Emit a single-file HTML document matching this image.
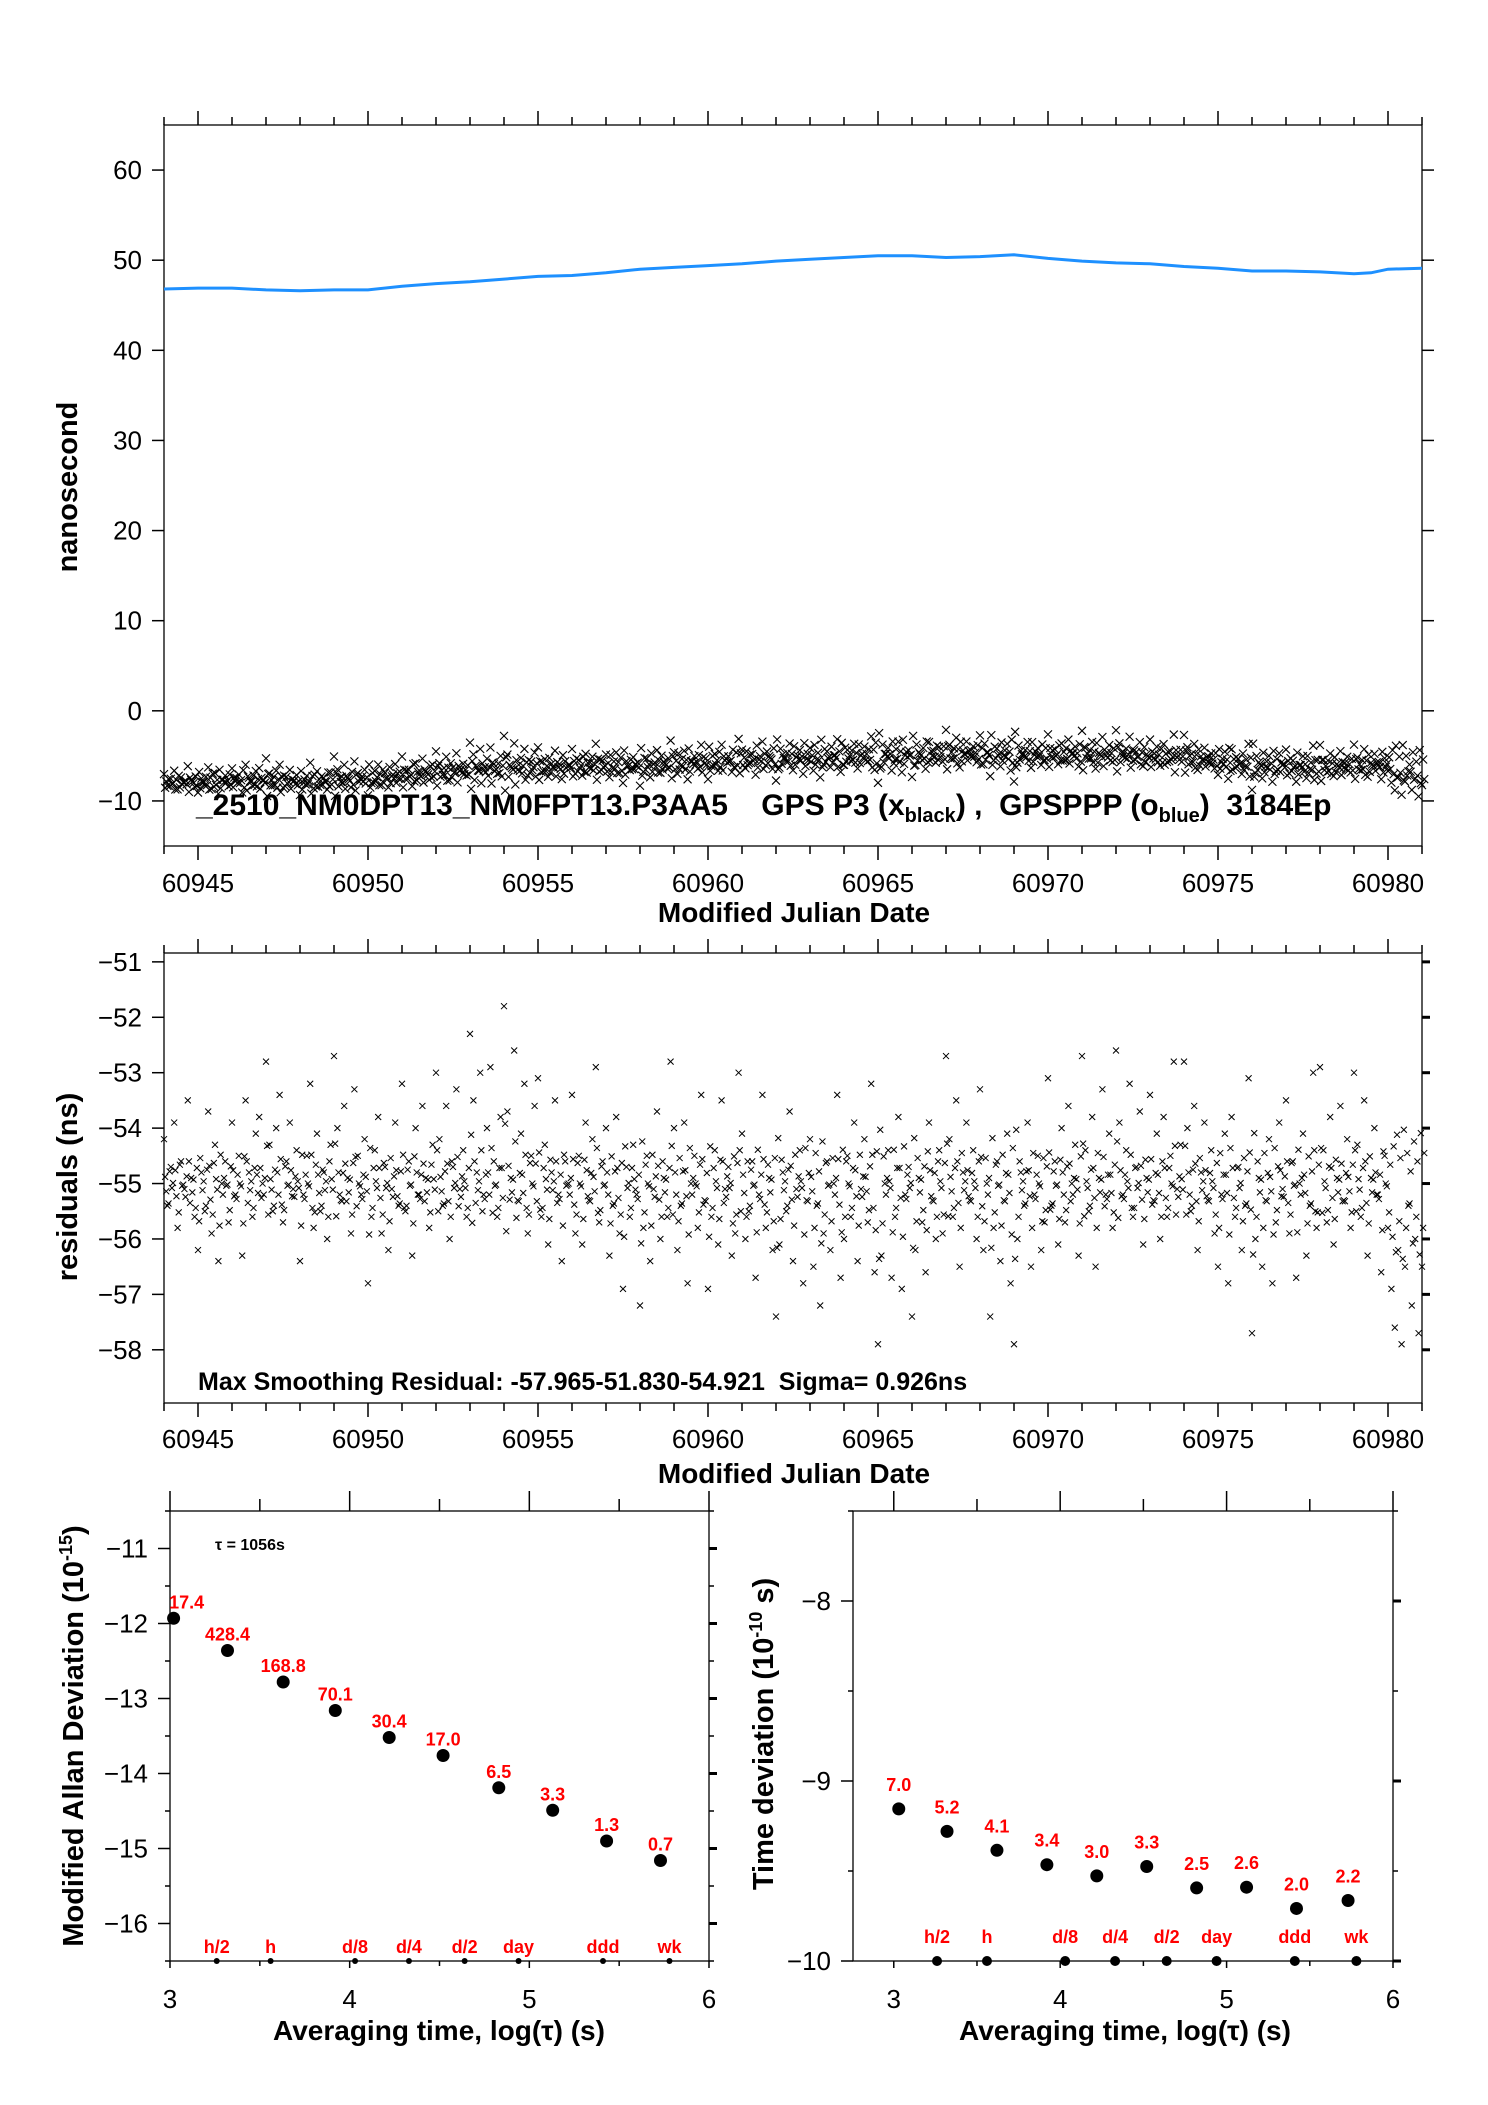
<!DOCTYPE html>
<html><head><meta charset="utf-8"><style>
html,body{margin:0;padding:0;background:#fff}
svg{display:block}
text{font-family:"Liberation Sans Narrow","Liberation Sans",sans-serif}
.tk{font-size:26px}
.ti{font-size:28px;font-weight:bold}
.red{fill:#ff0000;font-weight:bold;font-size:18px}
</style></head><body>
<svg id="fig" width="1488" height="2105" viewBox="0 0 1488 2105" xmlns="http://www.w3.org/2000/svg">
<rect width="1488" height="2105" fill="#fff"/>
<g id="p1"></g>
<g id="p2"></g>
<g id="p3"></g>
<g id="p4"></g>
<text transform="translate(77,487) rotate(-90)" text-anchor="middle" style="font-family:'Liberation Sans',sans-serif;font-weight:bold;font-size:29px">nanosecond</text>
<text x="794" y="922" text-anchor="middle" class="ti">Modified Julian Date</text>
<text x="196" y="815" style="font-weight:bold;font-size:30px">_2510_NM0DPT13_NM0FPT13.P3AA5 &#160;&#160; GPS P3 (x<tspan font-size="20" dy="7">black</tspan><tspan dy="-7">) ,&#160; GPSPPP (o</tspan><tspan font-size="20" dy="7">blue</tspan><tspan dy="-7">)&#160; 3184Ep</tspan></text>
<text transform="translate(77,1187) rotate(-90)" text-anchor="middle" style="font-family:'Liberation Sans',sans-serif;font-weight:bold;font-size:29px">residuals (ns)</text>
<text x="794" y="1483" text-anchor="middle" class="ti">Modified Julian Date</text>
<text x="198" y="1390" style="font-weight:bold;font-size:25px">Max Smoothing Residual: -57.965-51.830-54.921&#160; Sigma= 0.926ns</text>
<text transform="translate(83,1736) rotate(-90)" text-anchor="middle" style="font-family:'Liberation Sans',sans-serif;font-weight:bold;font-size:29px">Modified Allan Deviation (10<tspan font-size="18" dy="-11">-15</tspan><tspan dy="11">)</tspan></text>
<text transform="translate(773,1734) rotate(-90)" text-anchor="middle" style="font-family:'Liberation Sans',sans-serif;font-weight:bold;font-size:29px">Time deviation (10<tspan font-size="18" dy="-11">-10</tspan><tspan dy="11"> s)</tspan></text>
<text x="439" y="2040" text-anchor="middle" class="ti">Averaging time, log(τ) (s)</text>
<text x="1125" y="2040" text-anchor="middle" class="ti">Averaging time, log(τ) (s)</text>
<text x="215" y="1550" style="font-weight:bold;font-size:16px">τ = 1056s</text>
</svg>
<script>
// ---------- data ----------
const blueDays = [60944,60945,60946,60947,60948,60949,60950,60951,60952,60953,60954,60955,60956,60957,60958,60959,60960,60961,60962,60963,60964,60965,60966,60967,60968,60969,60970,60971,60972,60973,60974,60975,60976,60977,60978,60979,60979.5,60980,60981];
const blueValues = [46.8,46.9,46.9,46.7,46.6,46.7,46.7,47.1,47.4,47.6,47.9,48.2,48.3,48.6,49.0,49.2,49.4,49.6,49.9,50.1,50.3,50.5,50.5,50.3,50.4,50.6,50.2,49.9,49.7,49.6,49.3,49.1,48.8,48.8,48.7,48.5,48.6,49.0,49.1];
const blackTrendDays = [60944,60946,60948,60950,60952,60954,60956,60958,60960,60962,60964,60966,60968,60970,60972,60974,60976,60978,60980,60981];
const blackTrend = [-7.9,-7.6,-7.8,-7.4,-6.7,-6.3,-6.0,-5.9,-5.5,-5.1,-4.9,-4.7,-4.6,-4.7,-4.8,-5.1,-5.8,-6.1,-5.8,-6.6];
const residStart = 60944, residStep = 0.1;
const residuals = [
-54.2,-55.4,-54.7,-53.9,-55.8,-54.6,-55.1,-53.5,-54.9,-55.6,
-56.2,-54.8,-55.5,-53.7,-55.9,-54.3,-56.4,-55.0,-54.6,-55.7,
-53.9,-55.2,-54.5,-56.3,-53.5,-54.8,-55.6,-54.1,-53.8,-55.0,
-52.8,-54.3,-55.5,-54.0,-53.4,-55.7,-54.6,-53.9,-55.1,-54.4,
-56.4,-55.2,-54.5,-53.2,-55.8,-54.1,-55.5,-54.8,-56.0,-54.3,
-52.7,-54.0,-55.3,-53.6,-54.9,-55.9,-53.3,-54.5,-55.2,-54.2,
-56.8,-55.6,-54.4,-53.8,-55.9,-54.7,-56.2,-55.1,-53.9,-55.4,
-53.2,-55.5,-54.6,-56.3,-54.0,-55.2,-53.6,-54.9,-55.8,-54.3,
-53.0,-54.2,-55.4,-53.6,-56.0,-54.7,-53.3,-55.1,-54.4,-55.6,
-52.3,-53.5,-54.8,-53.0,-55.2,-54.0,-52.9,-54.6,-55.6,-53.8,
-51.8,-53.7,-54.9,-52.6,-55.3,-54.1,-53.2,-55.9,-54.5,-53.6,
-53.1,-55.6,-54.3,-56.1,-54.8,-53.5,-55.2,-56.4,-54.6,-55.0,
-53.4,-55.9,-54.5,-56.1,-53.9,-55.3,-54.2,-52.9,-55.7,-54.6,
-54.0,-56.3,-55.4,-53.8,-55.9,-56.9,-54.7,-55.6,-54.3,-55.2,
-57.2,-55.8,-54.5,-56.4,-55.1,-53.7,-56.0,-54.9,-55.6,-52.8,
-54.0,-56.2,-55.4,-53.9,-56.8,-55.0,-54.5,-55.8,-53.4,-55.3,
-56.9,-55.6,-54.4,-56.1,-53.5,-55.1,-54.7,-56.3,-55.9,-53.0,
-54.1,-56.0,-55.5,-54.6,-56.7,-55.2,-53.4,-55.8,-54.9,-56.2,
-57.4,-56.1,-54.8,-55.5,-53.7,-56.4,-55.1,-54.4,-56.8,-55.3,
-54.2,-56.5,-55.4,-57.2,-55.9,-54.6,-56.2,-55.0,-53.4,-56.7,
-56.0,-54.5,-55.6,-53.9,-56.4,-55.1,-54.2,-55.7,-53.2,-56.6,
-57.9,-56.3,-55.0,-54.4,-56.7,-55.6,-53.8,-56.9,-55.2,-54.7,
-57.4,-56.2,-54.9,-55.7,-56.6,-53.9,-55.3,-56.0,-54.4,-55.9,
-52.7,-54.2,-55.6,-53.5,-56.5,-54.8,-53.9,-55.3,-54.4,-56.0,
-53.3,-56.2,-55.0,-57.4,-55.8,-54.6,-56.4,-55.3,-54.1,-56.8,
-57.9,-56.0,-54.8,-55.4,-53.9,-56.5,-55.2,-54.5,-56.2,-55.7,
-53.1,-55.4,-54.6,-56.1,-54.0,-55.7,-53.6,-55.0,-54.3,-56.3,
-52.7,-54.4,-55.5,-53.8,-56.5,-54.9,-53.3,-55.2,-54.1,-55.8,
-52.6,-53.9,-55.2,-54.4,-53.2,-55.6,-54.7,-53.7,-56.1,-54.9,
-53.4,-55.3,-54.1,-56.0,-53.8,-55.6,-54.5,-52.8,-55.1,-54.3,
-52.8,-54.0,-55.5,-53.6,-56.2,-54.8,-53.9,-55.3,-54.4,-55.9,
-56.5,-55.2,-54.1,-56.8,-53.8,-55.6,-54.7,-56.2,-55.4,-53.1,
-57.7,-56.0,-54.9,-56.5,-55.3,-54.2,-56.8,-55.7,-53.9,-55.1,
-53.5,-55.9,-54.6,-56.7,-55.0,-54.1,-56.3,-55.4,-53.0,-55.8,
-52.9,-54.4,-55.7,-53.8,-56.1,-54.9,-53.6,-55.3,-54.2,-55.8,
-53.0,-54.3,-55.6,-53.5,-56.3,-54.9,-54.0,-55.2,-56.6,-54.5,
-55.8,-56.9,-57.6,-56.2,-57.9,-56.5,-55.4,-57.2,-56.0,-57.7,
-56.5];
const mdevLogTau = [3.02,3.32,3.63,3.92,4.22,4.52,4.83,5.13,5.43,5.73];
const mdevValues = [-11.93,-12.36,-12.78,-13.16,-13.52,-13.76,-14.19,-14.49,-14.90,-15.16];
const mdevLabels = ["17.4","428.4","168.8","70.1","30.4","17.0","6.5","3.3","1.3","0.7"];
const tdevLogTau = [3.03,3.32,3.62,3.92,4.22,4.52,4.82,5.12,5.42,5.73];
const tdevValues = [-9.155,-9.28,-9.385,-9.465,-9.527,-9.475,-9.594,-9.59,-9.708,-9.664];
const tdevLabels = ["7.0","5.2","4.1","3.4","3.0","3.3","2.5","2.6","2.0","2.2"];
const markerNames = ["h/2","h","d/8","d/4","d/2","day","ddd","wk"];
const markerLogTau = [3.26,3.56,4.03,4.33,4.64,4.94,5.41,5.78];
const p1YTicks = [-10,0,10,20,30,40,50,60];
const p2YTicks = [-58,-57,-56,-55,-54,-53,-52,-51];
const p3YTicks = [-16,-15,-14,-13,-12,-11];
const p4YTicks = [-10,-9,-8];
const mjdTicks = [60945,60950,60955,60960,60965,60970,60975,60980];
const logTicks = [3,4,5,6];

// ---------- helpers ----------
const NS="http://www.w3.org/2000/svg";
function el(parent,tag,attrs){const e=document.createElementNS(NS,tag);for(const k in attrs)e.setAttribute(k,attrs[k]);parent.appendChild(e);return e;}
function lin(d0,d1,r0,r1){return v=>r0+(v-d0)*(r1-r0)/(d1-d0);}
function interp(xs,ys,x){if(x<=xs[0])return ys[0];for(let i=1;i<xs.length;i++){if(x<=xs[i]){const t=(x-xs[i-1])/(xs[i]-xs[i-1]);return ys[i-1]+t*(ys[i]-ys[i-1]);}}return ys[ys.length-1];}
function fmt(v){return v<0?"\u2212"+Math.abs(v):String(v);}
function frame(g,x0,y0,x1,y1){const r=el(g,"rect",{x:x0,y:y0,width:x1-x0,height:y1-y0,fill:"none",stroke:"#000","stroke-width":1.3});

}
function tick(g,x1,y1,x2,y2,w){const l=el(g,"line",{x1:x1,y1:y1,x2:x2,y2:y2,stroke:"#000","stroke-width":w||1.5});

}
function label(g,x,y,txt,anchor,cls,name){const t=el(g,"text",{x:x,y:y,"text-anchor":anchor,class:cls});t.textContent=txt;

return t;}
function xmark(g,x,y,s,w,name){const p=el(g,"path",{d:`M${x-s} ${y-s}L${x+s} ${y+s}M${x-s} ${y+s}L${x+s} ${y-s}`,stroke:"#000","stroke-width":w,fill:"none"});

}

// ---------- panel 1 ----------
(function(){
 const g=document.getElementById("p1");
 const X0=164,X1=1422,Y0=125,Y1=846;
 const sx=lin(60944,60981,X0,X1), sy=lin(65,-15,Y0,Y1);
 frame(g,X0,Y0,X1,Y1);
 for(let d=60944;d<=60981;d++){const mj=d%5===0;tick(g,sx(d),Y0,sx(d),Y0-(mj?14:8));tick(g,sx(d),Y1,sx(d),Y1+(mj?14:8));}
 mjdTicks.forEach(d=>label(g,sx(d),892,String(d),"middle","tk","x-tick-label"));
 p1YTicks.forEach(v=>{tick(g,X0-12,sy(v),X0,sy(v));tick(g,X1,sy(v),X1+12,sy(v));label(g,X0-22,sy(v)+9,fmt(v),"end","tk","y-tick-label");});
 residuals.forEach((r,i)=>{const d=residStart+i*residStep;const v=interp(blackTrendDays,blackTrend,d);const dv=(r+55);
  xmark(g,sx(d),sy(v+dv*1.1),4,1.1,"gps-p3-point");
  xmark(g,sx(d+0.033),sy(v-dv*0.8),4,1.1,"gps-p3-point");
  xmark(g,sx(d+0.066),sy(v+dv*0.45-0.3),4,1.1,"gps-p3-point");});
 const pts=blueDays.map((d,i)=>sx(d).toFixed(1)+","+sy(blueValues[i]).toFixed(1)).join(" ");
 const pl=el(g,"polyline",{points:pts,fill:"none",stroke:"#1e90ff","stroke-width":3});
 
 
})();

// ---------- panel 2 ----------
(function(){
 const g=document.getElementById("p2");
 const X0=164,X1=1422,Y0=953,Y1=1403;
 const sx=lin(60944,60981,X0,X1), sy=lin(-50.84,-58.96,Y0,Y1);
 frame(g,X0,Y0,X1,Y1);
 for(let d=60944;d<=60981;d++){const mj=d%5===0;tick(g,sx(d),Y0,sx(d),Y0-(mj?14:8));tick(g,sx(d),Y1,sx(d),Y1+(mj?14:8));}
 mjdTicks.forEach(d=>label(g,sx(d),1448,String(d),"middle","tk","x-tick-label"));
 p2YTicks.forEach(v=>{tick(g,X0-12,sy(v),X0,sy(v));tick(g,X1,sy(v),X1+8,sy(v),3);label(g,X0-22,sy(v)+9,fmt(v),"end","tk","y-tick-label");});
 residuals.forEach((r,i)=>{const d=residStart+i*residStep;
  xmark(g,sx(d),sy(r),3,1,"residual-point");
  xmark(g,sx(d+0.033),sy(r+(r+55)*-0.6-0.2),3,1,"residual-point");
  xmark(g,sx(d+0.066),sy(r+(r+55)*-1.3+0.1),3,1,"residual-point");});
})();

// ---------- panel 3 (MDEV) ----------
(function(){
 const g=document.getElementById("p3");
 const X0=170,X1=709,Y0=1511,Y1=1961;
 const sx=lin(3,6,X0,X1), sy=lin(-10.5,-16.5,Y0,Y1);
 frame(g,X0,Y0,X1,Y1);
 for(let t=3;t<=6;t+=0.5){const mj=t%1===0;tick(g,sx(t),Y0,sx(t),Y0-(mj?20:12));tick(g,sx(t),Y1,sx(t),Y1+(mj?7:5));}
 logTicks.forEach(t=>label(g,sx(t),2008,String(t),"middle","tk","x-tick-label"));
 for(let v=-16.5;v<=-10.5;v+=0.5){const mj=v%1===0;tick(g,X0-(mj?12:5),sy(v),X0,sy(v));tick(g,X1,sy(v),X1+(mj?8:5),sy(v),mj?3:1.5);}
 p3YTicks.forEach(v=>label(g,X0-22,sy(v)+9,fmt(v),"end","tk","y-tick-label"));
 mdevLogTau.forEach((t,i)=>{const c=el(g,"circle",{cx:sx(t),cy:sy(mdevValues[i]),r:6.5,fill:"#000"});
  
  
  label(g,sx(t)+(i===0?13:0),sy(mdevValues[i])-10,mdevLabels[i],"middle","red","mdev-value-label");});
 markerLogTau.forEach((t,i)=>{const c=el(g,"circle",{cx:sx(t),cy:Y1,r:3,fill:"#000"});
  
  
  label(g,sx(t),1953,markerNames[i],"middle","red","interval-label");});
})();

// ---------- panel 4 (TDEV) ----------
(function(){
 const g=document.getElementById("p4");
 const X0=853,X1=1393,Y0=1511,Y1=1961;
 const sx=lin(2.755,6,X0,X1), sy=lin(-7.5,-10,Y0,Y1);
 frame(g,X0,Y0,X1,Y1);
 for(let t=3;t<=6;t+=0.5){const mj=t%1===0;tick(g,sx(t),Y0,sx(t),Y0-(mj?20:12));tick(g,sx(t),Y1,sx(t),Y1+(mj?7:5));}
 logTicks.forEach(t=>label(g,sx(t),2008,String(t),"middle","tk","x-tick-label"));
 for(let v=-10;v<=-7.5;v+=0.5){const mj=v%1===0;tick(g,X0-(mj?12:5),sy(v),X0,sy(v));tick(g,X1,sy(v),X1+(mj?8:5),sy(v),mj?3:1.5);}
 p4YTicks.forEach(v=>label(g,X0-22,sy(v)+9,fmt(v),"end","tk","y-tick-label"));
 tdevLogTau.forEach((t,i)=>{const c=el(g,"circle",{cx:sx(t),cy:sy(tdevValues[i]),r:6.5,fill:"#000"});
  
  
  label(g,sx(t),sy(tdevValues[i])-18,tdevLabels[i],"middle","red","tdev-value-label");});
 markerLogTau.forEach((t,i)=>{const c=el(g,"circle",{cx:sx(t),cy:Y1,r:5,fill:"#000"});
  
  
  label(g,sx(t),1943,markerNames[i],"middle","red","interval-label");});
})();
</script>
</body></html>
